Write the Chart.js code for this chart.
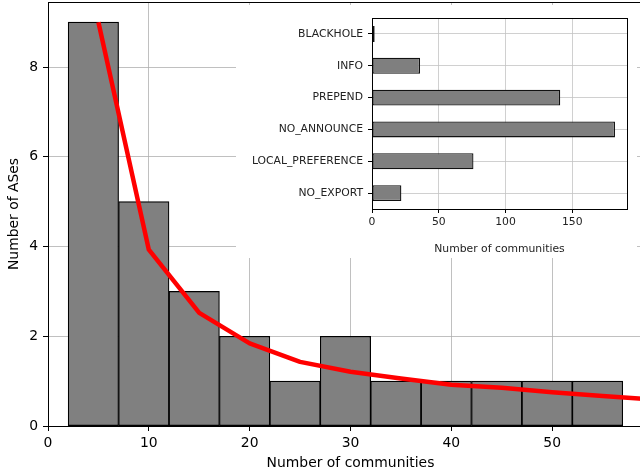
<!DOCTYPE html>
<html>
<head>
<meta charset="utf-8">
<script src="https://cdn.jsdelivr.net/npm/chart.js@4.4.1/dist/chart.umd.min.js"></script>
<style>
  html, body { margin: 0; padding: 0; background: #fff; overflow: hidden; width: 640px; height: 472px; }
  #mainBox { position: absolute; left: 0; top: 0; width: 660px; height: 472px; }
  #insetBox { position: absolute; left: 236px; top: 5px; width: 401px; height: 253px; background: #fff; }
</style>
</head>
<body>
<div id="mainBox"><canvas id="main" width="660" height="472"></canvas></div>
<div id="insetBox"><canvas id="inset" width="401" height="253"></canvas></div>
<script>
// ------------------------------------------------
// Histogram of communities per AS + inset by type
// ------------------------------------------------

const binCenters = [4.5, 9.5, 14.5, 19.5, 24.5, 29.5, 34.5, 39.5, 44.5, 49.5, 54.5];
const asCounts = [9, 5, 3, 2, 1, 2, 1, 1, 1, 1, 1];

// red fitted curve
const fitX = [5, 10, 15, 20, 25, 30, 35, 40, 45, 50, 55, 60];
const fitY = [9, 3.93, 2.52, 1.84, 1.43, 1.21, 1.06, 0.92, 0.85, 0.75, 0.67, 0.59];

const typeLabels = ['BLACKHOLE', 'INFO', 'PREPEND', 'NO_ANNOUNCE', 'LOCAL_PREFERENCE', 'NO_EXPORT'];
const typeCounts = [2, 36, 141, 182, 76, 22];

const FONT = 'DejaVu Sans';

// full black box round the plot area
const framePlugin = {
    id: 'frame',
    afterDraw(chart) {
        const { ctx, chartArea: a } = chart;
        ctx.save();
        ctx.strokeStyle = '#000';
        ctx.lineWidth = 1;
        ctx.strokeRect(Math.round(a.left) + 0.5, Math.round(a.top) + 0.5,
            Math.round(a.right - a.left), Math.round(a.bottom - a.top));
        ctx.restore();
    }
};

// fixed axis sizes, no extra room for edge labels
function fixSize(prop, px) {
    return function (s) {
        s[prop] = px;
        s.paddingTop = 0;
        s.paddingBottom = 0;
        s.paddingLeft = 0;
        s.paddingRight = 0;
    };
}

document.addEventListener('DOMContentLoaded', () => {
    drawMain();
    drawInset();
});

function drawMain() {
    const ctx = document.getElementById('main').getContext('2d');
    new Chart(ctx, {
        type: 'bar',
        data: {
            datasets: [
                {
                    type: 'line',
                    data: fitX.map((x, i) => ({ x: x, y: fitY[i] })),
                    borderColor: '#ff0000',
                    borderWidth: 4.5,
                    borderJoinStyle: 'round',
                    pointRadius: 0,
                    tension: 0,
                    order: 0
                },
                {
                    type: 'bar',
                    data: binCenters.map((x, i) => ({ x: x, y: asCounts[i] })),
                    backgroundColor: '#808080',
                    borderColor: '#000',
                    borderWidth: 1.2,
                    borderSkipped: false,
                    barPercentage: 1,
                    categoryPercentage: 1,
                    order: 1
                }
            ]
        },
        options: {
            responsive: false,
            animation: false,
            layout: { padding: { top: 2, right: 7, left: 0, bottom: 0 } },
            plugins: { legend: { display: false }, tooltip: { enabled: false } },
            scales: {
                x: {
                    type: 'linear',
                    min: 0,
                    max: 60,
                    offset: false,
                    border: { display: false },
                    grid: { offset: false, color: '#b0b0b0', lineWidth: 0.8, tickColor: '#000', tickWidth: 1, tickLength: 5 },
                    ticks: { stepSize: 10, padding: 4, color: '#000', font: { family: FONT, size: 13.9 }, maxRotation: 0 },
                    title: { display: true, text: 'Number of communities', color: '#000', font: { family: FONT, size: 13.9 }, padding: { top: 0, bottom: 0 } },
                    afterFit: fixSize('height', 46)
                },
                y: {
                    min: 0,
                    max: 9.45,
                    border: { display: false },
                    grid: { color: '#b0b0b0', lineWidth: 0.8, tickColor: '#000', tickWidth: 1, tickLength: 5 },
                    ticks: { stepSize: 2, includeBounds: false, padding: 5, color: '#000', font: { family: FONT, size: 13.9 } },
                    title: { display: true, text: 'Number of ASes', color: '#000', font: { family: FONT, size: 13.9 }, padding: { top: 6, bottom: 0 } },
                    afterFit: fixSize('width', 48)
                }
            }
        },
        plugins: [framePlugin]
    });
}

function drawInset() {
    const ctx = document.getElementById('inset').getContext('2d');
    new Chart(ctx, {
        type: 'bar',
        data: {
            labels: typeLabels,
            datasets: [{
                data: typeCounts,
                backgroundColor: '#7f7f7f',
                borderColor: '#111',
                borderWidth: 1.3,
                borderSkipped: false,
                barPercentage: 1,
                categoryPercentage: 0.5
            }]
        },
        options: {
            indexAxis: 'y',
            responsive: false,
            animation: false,
            layout: { padding: { top: 13, right: 10, left: 0, bottom: 0 } },
            plugins: { legend: { display: false }, tooltip: { enabled: false } },
            scales: {
                x: {
                    type: 'linear',
                    min: 0,
                    max: 191,
                    border: { display: false },
                    grid: { color: '#c4c4c4', lineWidth: 0.8, tickColor: '#000', tickWidth: 1, tickLength: 4 },
                    ticks: { stepSize: 50, includeBounds: false, padding: 3, color: '#222', font: { family: FONT, size: 10.8 }, maxRotation: 0 },
                    title: { display: true, text: 'Number of communities', color: '#222', font: { family: FONT, size: 10.8 }, padding: { top: 0, bottom: 2 } },
                    afterFit: fixSize('height', 49)
                },
                y: {
                    type: 'category',
                    offset: true,
                    border: { display: false },
                    grid: { offset: false, color: '#c4c4c4', lineWidth: 0.8, tickColor: '#000', tickWidth: 1, tickLength: 4 },
                    ticks: { padding: 5, color: '#222', font: { family: FONT, size: 10.8 } },
                    afterFit: fixSize('width', 136)
                }
            }
        },
        plugins: [framePlugin]
    });
}
</script>
</body>
</html>
